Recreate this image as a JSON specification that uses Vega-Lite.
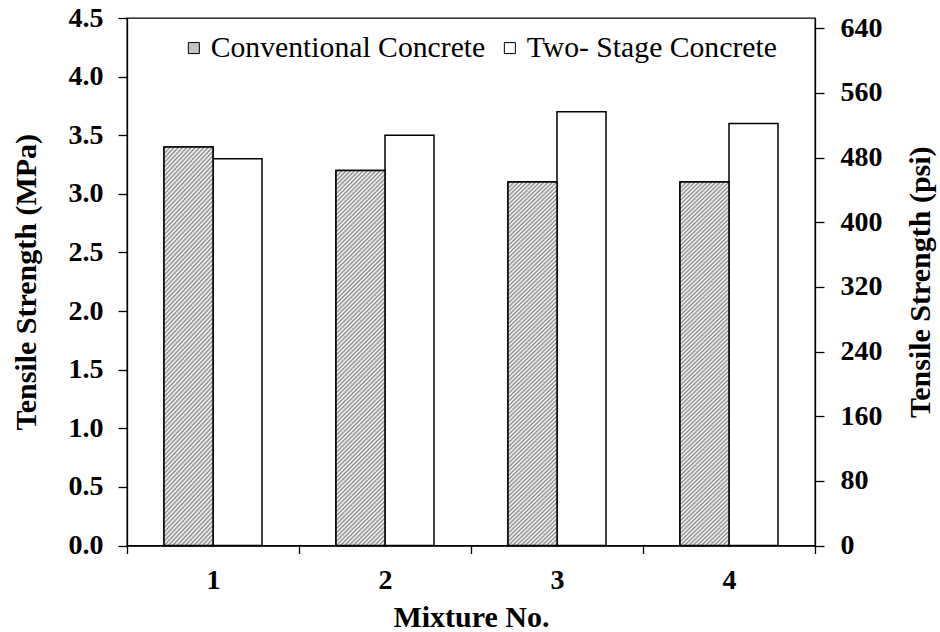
{
  "$schema": "https://vega.github.io/schema/vega-lite/v6.json",
  "width": 688,
  "height": 527.5,
  "autosize": {"type": "none"},
  "padding": {"left": 127, "top": 18, "right": 125, "bottom": 87},
  "background": "white",
  "config": {
    "font": "Liberation Serif, Times New Roman, Times, serif",
    "view": {"stroke": "black", "strokeWidth": 1.3},
    "axis": {
      "grid": false,
      "domainColor": "black",
      "domainWidth": 1.3,
      "tickColor": "black",
      "tickWidth": 1.3,
      "labelColor": "black",
      "labelFont": "Liberation Serif, Times New Roman, Times, serif",
      "labelFontSize": 28,
      "labelFontWeight": "bold",
      "titleColor": "black",
      "titleFont": "Liberation Serif, Times New Roman, Times, serif",
      "titleFontSize": 30,
      "titleFontWeight": "bold"
    },
    "legend": {
      "labelFont": "Liberation Serif, Times New Roman, Times, serif",
      "labelFontSize": 29.7,
      "labelColor": "black",
      "labelLimit": 500
    }
  },
  "data": {
    "values": [
      {"mix": "1", "series": "Conventional Concrete", "MPa": 3.4},
      {"mix": "1", "series": "Two- Stage Concrete", "MPa": 3.3},
      {"mix": "2", "series": "Conventional Concrete", "MPa": 3.2},
      {"mix": "2", "series": "Two- Stage Concrete", "MPa": 3.5},
      {"mix": "3", "series": "Conventional Concrete", "MPa": 3.1},
      {"mix": "3", "series": "Two- Stage Concrete", "MPa": 3.7},
      {"mix": "4", "series": "Conventional Concrete", "MPa": 3.1},
      {"mix": "4", "series": "Two- Stage Concrete", "MPa": 3.6}
    ]
  },
  "layer": [
    {
      "mark": {"type": "bar", "stroke": "black", "strokeWidth": 1.5},
      "encoding": {
        "x": {
          "field": "mix",
          "type": "ordinal",
          "scale": {"paddingInner": 0, "paddingOuter": 0},
          "axis": {
            "title": "Mixture No.",
            "labelAngle": 0,
            "tickBand": "extent",
            "tickSize": 8,
            "labelPadding": 13,
            "titlePadding": 8
          }
        },
        "xOffset": {
          "field": "series",
          "type": "nominal",
          "scale": {"domain": ["Conventional Concrete", "Two- Stage Concrete"], "paddingInner": 0, "paddingOuter": 0.755}
        },
        "y": {
          "field": "MPa",
          "type": "quantitative",
          "scale": {"domain": [0, 4.5], "nice": false},
          "axis": {
            "title": "Tensile Strength (MPa)",
            "values": [0, 0.5, 1, 1.5, 2, 2.5, 3, 3.5, 4, 4.5],
            "format": ".1f",
            "tickSize": 9,
            "labelPadding": 15,
            "titlePadding": 27
          }
        },
        "fill": {
          "field": "series",
          "type": "nominal",
          "scale": {
            "domain": ["Conventional Concrete", "Two- Stage Concrete"],
            "range": ["#c4c4c4", "#ffffff"]
          },
          "legend": {
            "title": null,
            "orient": "none",
            "direction": "horizontal",
            "columns": 2,
            "legendX": 52,
            "legendY": 15,
            "padding": 0,
            "symbolType": "square",
            "symbolSize": 121,
            "symbolStrokeColor": "black",
            "symbolStrokeWidth": 1,
            "labelOffset": 2,
            "columnPadding": 9
          }
        }
      }
    },
    {
      "transform": [{"filter": {"field": "series", "equal": "Conventional Concrete"}}],
      "mark": {
        "type": "bar",
        "stroke": "black",
        "strokeWidth": 1.5,
        "fill": {
          "gradient": "linear",
          "x1": 0, "y1": 0, "x2": 0.1453, "y2": 1.1117,
          "stops": [
{"offset":0,"color":"#fff"},{"offset":0.005,"color":"#888"},{"offset":0.01,"color":"#fff"},{"offset":0.015,"color":"#888"},{"offset":0.02,"color":"#fff"},{"offset":0.025,"color":"#888"},{"offset":0.03,"color":"#fff"},{"offset":0.035,"color":"#888"},{"offset":0.04,"color":"#fff"},{"offset":0.045,"color":"#888"},
{"offset":0.05,"color":"#fff"},{"offset":0.055,"color":"#888"},{"offset":0.06,"color":"#fff"},{"offset":0.065,"color":"#888"},{"offset":0.07,"color":"#fff"},{"offset":0.075,"color":"#888"},{"offset":0.08,"color":"#fff"},{"offset":0.085,"color":"#888"},{"offset":0.09,"color":"#fff"},{"offset":0.095,"color":"#888"},
{"offset":0.1,"color":"#fff"},{"offset":0.105,"color":"#888"},{"offset":0.11,"color":"#fff"},{"offset":0.115,"color":"#888"},{"offset":0.12,"color":"#fff"},{"offset":0.125,"color":"#888"},{"offset":0.13,"color":"#fff"},{"offset":0.135,"color":"#888"},{"offset":0.14,"color":"#fff"},{"offset":0.145,"color":"#888"},
{"offset":0.15,"color":"#fff"},{"offset":0.155,"color":"#888"},{"offset":0.16,"color":"#fff"},{"offset":0.165,"color":"#888"},{"offset":0.17,"color":"#fff"},{"offset":0.175,"color":"#888"},{"offset":0.18,"color":"#fff"},{"offset":0.185,"color":"#888"},{"offset":0.19,"color":"#fff"},{"offset":0.195,"color":"#888"},
{"offset":0.2,"color":"#fff"},{"offset":0.205,"color":"#888"},{"offset":0.21,"color":"#fff"},{"offset":0.215,"color":"#888"},{"offset":0.22,"color":"#fff"},{"offset":0.225,"color":"#888"},{"offset":0.23,"color":"#fff"},{"offset":0.235,"color":"#888"},{"offset":0.24,"color":"#fff"},{"offset":0.245,"color":"#888"},
{"offset":0.25,"color":"#fff"},{"offset":0.255,"color":"#888"},{"offset":0.26,"color":"#fff"},{"offset":0.265,"color":"#888"},{"offset":0.27,"color":"#fff"},{"offset":0.275,"color":"#888"},{"offset":0.28,"color":"#fff"},{"offset":0.285,"color":"#888"},{"offset":0.29,"color":"#fff"},{"offset":0.295,"color":"#888"},
{"offset":0.3,"color":"#fff"},{"offset":0.305,"color":"#888"},{"offset":0.31,"color":"#fff"},{"offset":0.315,"color":"#888"},{"offset":0.32,"color":"#fff"},{"offset":0.325,"color":"#888"},{"offset":0.33,"color":"#fff"},{"offset":0.335,"color":"#888"},{"offset":0.34,"color":"#fff"},{"offset":0.345,"color":"#888"},
{"offset":0.35,"color":"#fff"},{"offset":0.355,"color":"#888"},{"offset":0.36,"color":"#fff"},{"offset":0.365,"color":"#888"},{"offset":0.37,"color":"#fff"},{"offset":0.375,"color":"#888"},{"offset":0.38,"color":"#fff"},{"offset":0.385,"color":"#888"},{"offset":0.39,"color":"#fff"},{"offset":0.395,"color":"#888"},
{"offset":0.4,"color":"#fff"},{"offset":0.405,"color":"#888"},{"offset":0.41,"color":"#fff"},{"offset":0.415,"color":"#888"},{"offset":0.42,"color":"#fff"},{"offset":0.425,"color":"#888"},{"offset":0.43,"color":"#fff"},{"offset":0.435,"color":"#888"},{"offset":0.44,"color":"#fff"},{"offset":0.445,"color":"#888"},
{"offset":0.45,"color":"#fff"},{"offset":0.455,"color":"#888"},{"offset":0.46,"color":"#fff"},{"offset":0.465,"color":"#888"},{"offset":0.47,"color":"#fff"},{"offset":0.475,"color":"#888"},{"offset":0.48,"color":"#fff"},{"offset":0.485,"color":"#888"},{"offset":0.49,"color":"#fff"},{"offset":0.495,"color":"#888"},
{"offset":0.5,"color":"#fff"},{"offset":0.505,"color":"#888"},{"offset":0.51,"color":"#fff"},{"offset":0.515,"color":"#888"},{"offset":0.52,"color":"#fff"},{"offset":0.525,"color":"#888"},{"offset":0.53,"color":"#fff"},{"offset":0.535,"color":"#888"},{"offset":0.54,"color":"#fff"},{"offset":0.545,"color":"#888"},
{"offset":0.55,"color":"#fff"},{"offset":0.555,"color":"#888"},{"offset":0.56,"color":"#fff"},{"offset":0.565,"color":"#888"},{"offset":0.57,"color":"#fff"},{"offset":0.575,"color":"#888"},{"offset":0.58,"color":"#fff"},{"offset":0.585,"color":"#888"},{"offset":0.59,"color":"#fff"},{"offset":0.595,"color":"#888"},
{"offset":0.6,"color":"#fff"},{"offset":0.605,"color":"#888"},{"offset":0.61,"color":"#fff"},{"offset":0.615,"color":"#888"},{"offset":0.62,"color":"#fff"},{"offset":0.625,"color":"#888"},{"offset":0.63,"color":"#fff"},{"offset":0.635,"color":"#888"},{"offset":0.64,"color":"#fff"},{"offset":0.645,"color":"#888"},
{"offset":0.65,"color":"#fff"},{"offset":0.655,"color":"#888"},{"offset":0.66,"color":"#fff"},{"offset":0.665,"color":"#888"},{"offset":0.67,"color":"#fff"},{"offset":0.675,"color":"#888"},{"offset":0.68,"color":"#fff"},{"offset":0.685,"color":"#888"},{"offset":0.69,"color":"#fff"},{"offset":0.695,"color":"#888"},
{"offset":0.7,"color":"#fff"},{"offset":0.705,"color":"#888"},{"offset":0.71,"color":"#fff"},{"offset":0.715,"color":"#888"},{"offset":0.72,"color":"#fff"},{"offset":0.725,"color":"#888"},{"offset":0.73,"color":"#fff"},{"offset":0.735,"color":"#888"},{"offset":0.74,"color":"#fff"},{"offset":0.745,"color":"#888"},
{"offset":0.75,"color":"#fff"},{"offset":0.755,"color":"#888"},{"offset":0.76,"color":"#fff"},{"offset":0.765,"color":"#888"},{"offset":0.77,"color":"#fff"},{"offset":0.775,"color":"#888"},{"offset":0.78,"color":"#fff"},{"offset":0.785,"color":"#888"},{"offset":0.79,"color":"#fff"},{"offset":0.795,"color":"#888"},
{"offset":0.8,"color":"#fff"},{"offset":0.805,"color":"#888"},{"offset":0.81,"color":"#fff"},{"offset":0.815,"color":"#888"},{"offset":0.82,"color":"#fff"},{"offset":0.825,"color":"#888"},{"offset":0.83,"color":"#fff"},{"offset":0.835,"color":"#888"},{"offset":0.84,"color":"#fff"},{"offset":0.845,"color":"#888"},
{"offset":0.85,"color":"#fff"},{"offset":0.855,"color":"#888"},{"offset":0.86,"color":"#fff"},{"offset":0.865,"color":"#888"},{"offset":0.87,"color":"#fff"},{"offset":0.875,"color":"#888"},{"offset":0.88,"color":"#fff"},{"offset":0.885,"color":"#888"},{"offset":0.89,"color":"#fff"},{"offset":0.895,"color":"#888"},
{"offset":0.9,"color":"#fff"},{"offset":0.905,"color":"#888"},{"offset":0.91,"color":"#fff"},{"offset":0.915,"color":"#888"},{"offset":0.92,"color":"#fff"},{"offset":0.925,"color":"#888"},{"offset":0.93,"color":"#fff"},{"offset":0.935,"color":"#888"},{"offset":0.94,"color":"#fff"},{"offset":0.945,"color":"#888"},
{"offset":0.95,"color":"#fff"},{"offset":0.955,"color":"#888"},{"offset":0.96,"color":"#fff"},{"offset":0.965,"color":"#888"},{"offset":0.97,"color":"#fff"},{"offset":0.975,"color":"#888"},{"offset":0.98,"color":"#fff"},{"offset":0.985,"color":"#888"},{"offset":0.99,"color":"#fff"},{"offset":0.995,"color":"#888"},
{"offset":1,"color":"#fff"}
          ]
        }
      },
      "encoding": {
        "x": {"field": "mix", "type": "ordinal"},
        "xOffset": {"field": "series", "type": "nominal"},
        "y": {
          "field": "MPa",
          "type": "quantitative",
          "scale": {"domain": [0, 4.5], "nice": false},
          "axis": null
        }
      }
    },
    {
      "mark": {"type": "rule", "opacity": 0},
      "encoding": {
        "y": {
          "datum": 0,
          "type": "quantitative",
          "scale": {"domain": [0, 652.67], "nice": false},
          "axis": {
            "orient": "right",
            "title": "Tensile Strength (psi)",
            "values": [0, 80, 160, 240, 320, 400, 480, 560, 640],
            "format": "d",
            "tickSize": 9,
            "labelPadding": 16,
            "titleAngle": 270,
            "titleBaseline": "top",
            "titlePadding": 23
          }
        }
      }
    }
  ],
  "resolve": {"scale": {"y": "independent"}, "axis": {"y": "independent"}}
}
